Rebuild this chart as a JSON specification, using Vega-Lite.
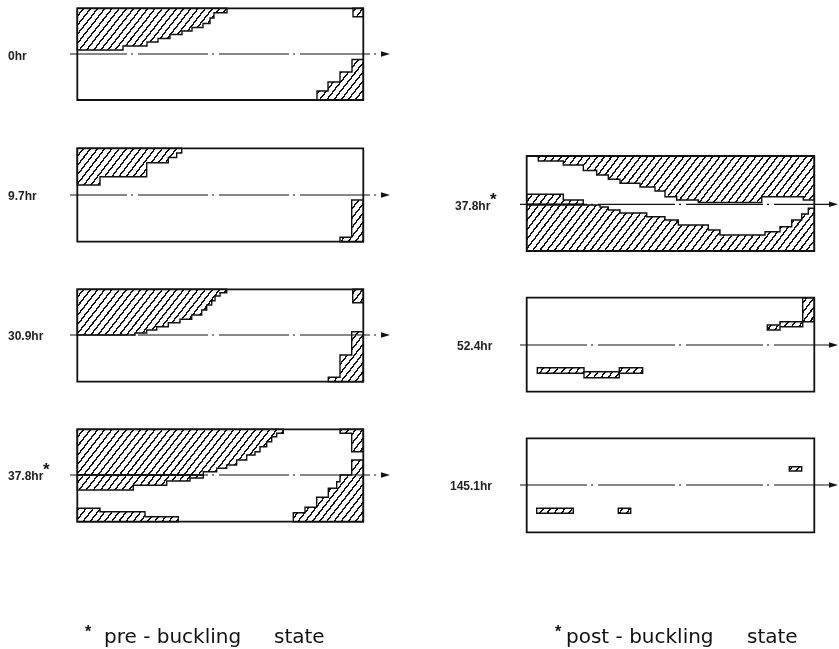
{
"$schema": "https://vega.github.io/schema/vega-lite/v6.json",
"width": 839, "height": 649, "autosize": {"type": "none"}, "padding": 0,
"background": "white",
"config": {"view": {"stroke": null}},
"datasets": {
"regions": [
{"r":"a1","x":77.3,"y":8.3,"y2":50},{"r":"a1","x":123,"y":8.3,"y2":46},{"r":"a1","x":147,"y":8.3,"y2":42},{"r":"a1","x":158,"y":8.3,"y2":38.5},{"r":"a1","x":170,"y":8.3,"y2":34.5},{"r":"a1","x":182,"y":8.3,"y2":31},{"r":"a1","x":192,"y":8.3,"y2":27.5},{"r":"a1","x":203,"y":8.3,"y2":23.5},{"r":"a1","x":210,"y":8.3,"y2":18},{"r":"a1","x":214,"y":8.3,"y2":12.7},{"r":"a1","x":227,"y":8.3,"y2":12.7},
{"r":"a2","x":353,"y":8.3,"y2":16.7},{"r":"a2","x":363.3,"y":8.3,"y2":16.7},
{"r":"a3","x":317,"y":91,"y2":100},{"r":"a3","x":328,"y":82,"y2":100},{"r":"a3","x":340,"y":72,"y2":100},{"r":"a3","x":352,"y":59.5,"y2":100},{"r":"a3","x":363.3,"y":59.5,"y2":100},
{"r":"b1","x":77.3,"y":148.3,"y2":185},{"r":"b1","x":100,"y":148.3,"y2":176.7},{"r":"b1","x":146.7,"y":148.3,"y2":162.7},{"r":"b1","x":168.3,"y":148.3,"y2":157.5},{"r":"b1","x":176.7,"y":148.3,"y2":153},{"r":"b1","x":181.7,"y":148.3,"y2":153},
{"r":"b2","x":340,"y":237.3,"y2":241.7},{"r":"b2","x":351.7,"y":200,"y2":241.7},{"r":"b2","x":363.3,"y":200,"y2":241.7},
{"r":"c1","x":77.3,"y":289.3,"y2":335},{"r":"c1","x":135,"y":289.3,"y2":333},{"r":"c1","x":146.7,"y":289.3,"y2":330},{"r":"c1","x":156.7,"y":289.3,"y2":326.7},{"r":"c1","x":168.3,"y":289.3,"y2":322.7},{"r":"c1","x":180,"y":289.3,"y2":319.3},{"r":"c1","x":191.7,"y":289.3,"y2":315},{"r":"c1","x":201.7,"y":289.3,"y2":310},{"r":"c1","x":206.7,"y":289.3,"y2":305},{"r":"c1","x":211.7,"y":289.3,"y2":300.7},{"r":"c1","x":215,"y":289.3,"y2":296},{"r":"c1","x":220,"y":289.3,"y2":292.7},{"r":"c1","x":226.7,"y":289.3,"y2":292.7},
{"r":"c2","x":352.7,"y":289.3,"y2":302.7},{"r":"c2","x":363.3,"y":289.3,"y2":302.7},
{"r":"c3","x":328.3,"y":377.3,"y2":381.7},{"r":"c3","x":340,"y":355,"y2":381.7},{"r":"c3","x":351.7,"y":331.7,"y2":381.7},{"r":"c3","x":363.3,"y":331.7,"y2":381.7},
{"r":"d1","x":77.3,"y":429.3,"y2":475},{"r":"d1","x":203.3,"y":429.3,"y2":471.7},{"r":"d1","x":216.7,"y":429.3,"y2":468.3},{"r":"d1","x":226.7,"y":429.3,"y2":465},{"r":"d1","x":236.7,"y":429.3,"y2":460},{"r":"d1","x":246.7,"y":429.3,"y2":455},{"r":"d1","x":255,"y":429.3,"y2":451.7},{"r":"d1","x":260,"y":429.3,"y2":446.7},{"r":"d1","x":266.7,"y":429.3,"y2":441.7},{"r":"d1","x":271.7,"y":429.3,"y2":436.7},{"r":"d1","x":276.7,"y":429.3,"y2":433.3},{"r":"d1","x":283.3,"y":429.3,"y2":433.3},
{"r":"d2","x":340,"y":429.3,"y2":433.3},{"r":"d2","x":351.7,"y":429.3,"y2":451.7},{"r":"d2","x":363.3,"y":429.3,"y2":451.7},
{"r":"d3","x":293.3,"y":512.7,"y2":521.7},{"r":"d3","x":305,"y":507.3,"y2":521.7},{"r":"d3","x":316.7,"y":497.3,"y2":521.7},{"r":"d3","x":328.3,"y":488.3,"y2":521.7},{"r":"d3","x":336.7,"y":481.7,"y2":521.7},{"r":"d3","x":340,"y":475,"y2":521.7},{"r":"d3","x":351.7,"y":460,"y2":521.7},{"r":"d3","x":363.3,"y":460,"y2":521.7},
{"r":"d4","x":77.3,"y":475,"y2":490},{"r":"d4","x":133.3,"y":475,"y2":485.3},{"r":"d4","x":166.7,"y":475,"y2":481},{"r":"d4","x":190,"y":475,"y2":478},{"r":"d4","x":203.3,"y":475,"y2":478},
{"r":"d5","x":77.3,"y":508.3,"y2":521.7},{"r":"d5","x":100,"y":511.7,"y2":521.7},{"r":"d5","x":145,"y":516.7,"y2":521.7},{"r":"d5","x":178.3,"y":516.7,"y2":521.7},
{"r":"e1","x":538.3,"y":156,"y2":161},{"r":"e1","x":563.3,"y":156,"y2":165},{"r":"e1","x":583.3,"y":156,"y2":170.5},{"r":"e1","x":596.7,"y":156,"y2":175},{"r":"e1","x":608.3,"y":156,"y2":179.3},{"r":"e1","x":620,"y":156,"y2":183.3},{"r":"e1","x":640,"y":156,"y2":187},{"r":"e1","x":655,"y":156,"y2":191},{"r":"e1","x":665,"y":156,"y2":196.7},{"r":"e1","x":676.7,"y":156,"y2":200},{"r":"e1","x":698.3,"y":156,"y2":202.5},{"r":"e1","x":761.7,"y":156,"y2":196.7},{"r":"e1","x":803.3,"y":156,"y2":200},{"r":"e1","x":814.3,"y":156,"y2":200},
{"r":"e2","x":526.7,"y":205,"y2":251},{"r":"e2","x":600,"y":207,"y2":251},{"r":"e2","x":608.3,"y":210,"y2":251},{"r":"e2","x":620,"y":213,"y2":251},{"r":"e2","x":646.7,"y":216.7,"y2":251},{"r":"e2","x":665,"y":220,"y2":251},{"r":"e2","x":678.3,"y":225,"y2":251},{"r":"e2","x":708.3,"y":230,"y2":251},{"r":"e2","x":720,"y":235,"y2":251},{"r":"e2","x":765,"y":231.7,"y2":251},{"r":"e2","x":780,"y":226.7,"y2":251},{"r":"e2","x":791.7,"y":220,"y2":251},{"r":"e2","x":801.7,"y":214,"y2":251},{"r":"e2","x":808.3,"y":208.3,"y2":251},{"r":"e2","x":814.3,"y":208.3,"y2":251},
{"r":"e3","x":526.7,"y":194.3,"y2":204.3},{"r":"e3","x":563.3,"y":200,"y2":204.3},{"r":"e3","x":583.3,"y":200,"y2":204.3},
{"r":"f1","x":802.7,"y":297.7,"y2":321.7},{"r":"f1","x":814.3,"y":297.7,"y2":321.7},
{"r":"f2","x":767.3,"y":325,"y2":330},{"r":"f2","x":780,"y":321.7,"y2":326.7},{"r":"f2","x":802.7,"y":321.7,"y2":326.7},
{"r":"f3","x":537.3,"y":367.7,"y2":373.3},{"r":"f3","x":584,"y":371.7,"y2":377.7},{"r":"f3","x":619.3,"y":367.7,"y2":373.3},{"r":"f3","x":642.7,"y":367.7,"y2":373.3},
{"r":"g1","x":536.7,"y":508.3,"y2":513.3},{"r":"g1","x":573.3,"y":508.3,"y2":513.3},
{"r":"g2","x":618.3,"y":508.3,"y2":513.3},{"r":"g2","x":630.7,"y":508.3,"y2":513.3},
{"r":"g3","x":789.3,"y":466.7,"y2":471},{"r":"g3","x":801.7,"y":466.7,"y2":471}
],
"boxes": [
{"p":"0hr","x":77.3,"x2":363.3,"y":8.3,"y2":100},
{"p":"9.7hr","x":77.3,"x2":363.3,"y":148.3,"y2":241.7},
{"p":"30.9hr","x":77.3,"x2":363.3,"y":289.3,"y2":381.7},
{"p":"37.8hr pre","x":77.3,"x2":363.3,"y":429.3,"y2":521.7},
{"p":"37.8hr post","x":526.7,"x2":814.3,"y":156,"y2":251},
{"p":"52.4hr","x":526.7,"x2":814.3,"y":297.7,"y2":391.7},
{"p":"145.1hr","x":526.7,"x2":814.3,"y":438.3,"y2":532.3}
],
"axesL": [
{"x":70,"x2":386,"y":54},{"x":70,"x2":386,"y":195},{"x":70,"x2":386,"y":335},{"x":70,"x2":386,"y":475}
],
"axesR": [
{"x":520,"x2":834,"y":204.3},{"x":520,"x2":834,"y":345},{"x":520,"x2":834,"y":485}
],
"arrows": [
{"x":385.5,"y":54},{"x":385.5,"y":195},{"x":385.5,"y":335},{"x":385.5,"y":475},
{"x":833.5,"y":204.3},{"x":833.5,"y":345},{"x":833.5,"y":485}
],
"labels": [
{"t":"0hr","x":8,"y":55.5},{"t":"9.7hr","x":8,"y":196},{"t":"30.9hr","x":8,"y":336},{"t":"37.8hr","x":8,"y":476},
{"t":"37.8hr","x":455,"y":206},{"t":"52.4hr","x":457,"y":346},{"t":"145.1hr","x":450,"y":486}
],
"stars": [
{"t":"*","x":43,"y":475},{"t":"*","x":490,"y":205}
],
"captions": [
{"t":"pre - buckling","x":104,"y":643},{"t":"state","x":274,"y":643},
{"t":"post - buckling","x":566,"y":643},{"t":"state","x":747,"y":643}
],
"capstars": [
{"t":"*","x":85,"y":637},{"t":"*","x":555,"y":637}
]
},
"encoding": {
"x": {"field": "x", "type": "quantitative", "scale": {"domain": [0, 839], "nice": false, "zero": false}, "axis": null},
"y": {"field": "y", "type": "quantitative", "scale": {"domain": [0, 649], "reverse": true, "nice": false, "zero": false}, "axis": null, "stack": null}
},
"layer": [
{"data": {"name": "regions"},
 "mark": {"type": "area", "interpolate": "step-after", "fill": "#000", "strokeWidth": 0},
 "encoding": {"y2": {"field": "y2"}, "detail": {"field": "r"}}},
{"data": {"name": "boxes"},
 "mark": {"type": "rect", "blend": "lighten", "strokeWidth": 0,
  "fill": {"gradient": "linear", "x1": 0, "y1": 0, "x2": 1.1775, "y2": 0.2981, "stops": [
{"offset":0,"color":"#fff"},{"offset":0.015,"color":"#fff"},{"offset":0.015,"color":"#111"},{"offset":0.02,"color":"#111"},
{"offset":0.02,"color":"#fff"},{"offset":0.035,"color":"#fff"},{"offset":0.035,"color":"#111"},{"offset":0.04,"color":"#111"},
{"offset":0.04,"color":"#fff"},{"offset":0.055,"color":"#fff"},{"offset":0.055,"color":"#111"},{"offset":0.06,"color":"#111"},
{"offset":0.06,"color":"#fff"},{"offset":0.075,"color":"#fff"},{"offset":0.075,"color":"#111"},{"offset":0.08,"color":"#111"},
{"offset":0.08,"color":"#fff"},{"offset":0.095,"color":"#fff"},{"offset":0.095,"color":"#111"},{"offset":0.1,"color":"#111"},
{"offset":0.1,"color":"#fff"},{"offset":0.115,"color":"#fff"},{"offset":0.115,"color":"#111"},{"offset":0.12,"color":"#111"},
{"offset":0.12,"color":"#fff"},{"offset":0.135,"color":"#fff"},{"offset":0.135,"color":"#111"},{"offset":0.14,"color":"#111"},
{"offset":0.14,"color":"#fff"},{"offset":0.155,"color":"#fff"},{"offset":0.155,"color":"#111"},{"offset":0.16,"color":"#111"},
{"offset":0.16,"color":"#fff"},{"offset":0.175,"color":"#fff"},{"offset":0.175,"color":"#111"},{"offset":0.18,"color":"#111"},
{"offset":0.18,"color":"#fff"},{"offset":0.195,"color":"#fff"},{"offset":0.195,"color":"#111"},{"offset":0.2,"color":"#111"},
{"offset":0.2,"color":"#fff"},{"offset":0.215,"color":"#fff"},{"offset":0.215,"color":"#111"},{"offset":0.22,"color":"#111"},
{"offset":0.22,"color":"#fff"},{"offset":0.235,"color":"#fff"},{"offset":0.235,"color":"#111"},{"offset":0.24,"color":"#111"},
{"offset":0.24,"color":"#fff"},{"offset":0.255,"color":"#fff"},{"offset":0.255,"color":"#111"},{"offset":0.26,"color":"#111"},
{"offset":0.26,"color":"#fff"},{"offset":0.275,"color":"#fff"},{"offset":0.275,"color":"#111"},{"offset":0.28,"color":"#111"},
{"offset":0.28,"color":"#fff"},{"offset":0.295,"color":"#fff"},{"offset":0.295,"color":"#111"},{"offset":0.3,"color":"#111"},
{"offset":0.3,"color":"#fff"},{"offset":0.315,"color":"#fff"},{"offset":0.315,"color":"#111"},{"offset":0.32,"color":"#111"},
{"offset":0.32,"color":"#fff"},{"offset":0.335,"color":"#fff"},{"offset":0.335,"color":"#111"},{"offset":0.34,"color":"#111"},
{"offset":0.34,"color":"#fff"},{"offset":0.355,"color":"#fff"},{"offset":0.355,"color":"#111"},{"offset":0.36,"color":"#111"},
{"offset":0.36,"color":"#fff"},{"offset":0.375,"color":"#fff"},{"offset":0.375,"color":"#111"},{"offset":0.38,"color":"#111"},
{"offset":0.38,"color":"#fff"},{"offset":0.395,"color":"#fff"},{"offset":0.395,"color":"#111"},{"offset":0.4,"color":"#111"},
{"offset":0.4,"color":"#fff"},{"offset":0.415,"color":"#fff"},{"offset":0.415,"color":"#111"},{"offset":0.42,"color":"#111"},
{"offset":0.42,"color":"#fff"},{"offset":0.435,"color":"#fff"},{"offset":0.435,"color":"#111"},{"offset":0.44,"color":"#111"},
{"offset":0.44,"color":"#fff"},{"offset":0.455,"color":"#fff"},{"offset":0.455,"color":"#111"},{"offset":0.46,"color":"#111"},
{"offset":0.46,"color":"#fff"},{"offset":0.475,"color":"#fff"},{"offset":0.475,"color":"#111"},{"offset":0.48,"color":"#111"},
{"offset":0.48,"color":"#fff"},{"offset":0.495,"color":"#fff"},{"offset":0.495,"color":"#111"},{"offset":0.5,"color":"#111"},
{"offset":0.5,"color":"#fff"},{"offset":0.515,"color":"#fff"},{"offset":0.515,"color":"#111"},{"offset":0.52,"color":"#111"},
{"offset":0.52,"color":"#fff"},{"offset":0.535,"color":"#fff"},{"offset":0.535,"color":"#111"},{"offset":0.54,"color":"#111"},
{"offset":0.54,"color":"#fff"},{"offset":0.555,"color":"#fff"},{"offset":0.555,"color":"#111"},{"offset":0.56,"color":"#111"},
{"offset":0.56,"color":"#fff"},{"offset":0.575,"color":"#fff"},{"offset":0.575,"color":"#111"},{"offset":0.58,"color":"#111"},
{"offset":0.58,"color":"#fff"},{"offset":0.595,"color":"#fff"},{"offset":0.595,"color":"#111"},{"offset":0.6,"color":"#111"},
{"offset":0.6,"color":"#fff"},{"offset":0.615,"color":"#fff"},{"offset":0.615,"color":"#111"},{"offset":0.62,"color":"#111"},
{"offset":0.62,"color":"#fff"},{"offset":0.635,"color":"#fff"},{"offset":0.635,"color":"#111"},{"offset":0.64,"color":"#111"},
{"offset":0.64,"color":"#fff"},{"offset":0.655,"color":"#fff"},{"offset":0.655,"color":"#111"},{"offset":0.66,"color":"#111"},
{"offset":0.66,"color":"#fff"},{"offset":0.675,"color":"#fff"},{"offset":0.675,"color":"#111"},{"offset":0.68,"color":"#111"},
{"offset":0.68,"color":"#fff"},{"offset":0.695,"color":"#fff"},{"offset":0.695,"color":"#111"},{"offset":0.7,"color":"#111"},
{"offset":0.7,"color":"#fff"},{"offset":0.715,"color":"#fff"},{"offset":0.715,"color":"#111"},{"offset":0.72,"color":"#111"},
{"offset":0.72,"color":"#fff"},{"offset":0.735,"color":"#fff"},{"offset":0.735,"color":"#111"},{"offset":0.74,"color":"#111"},
{"offset":0.74,"color":"#fff"},{"offset":0.755,"color":"#fff"},{"offset":0.755,"color":"#111"},{"offset":0.76,"color":"#111"},
{"offset":0.76,"color":"#fff"},{"offset":0.775,"color":"#fff"},{"offset":0.775,"color":"#111"},{"offset":0.78,"color":"#111"},
{"offset":0.78,"color":"#fff"},{"offset":0.795,"color":"#fff"},{"offset":0.795,"color":"#111"},{"offset":0.8,"color":"#111"},
{"offset":0.8,"color":"#fff"},{"offset":0.815,"color":"#fff"},{"offset":0.815,"color":"#111"},{"offset":0.82,"color":"#111"},
{"offset":0.82,"color":"#fff"},{"offset":0.835,"color":"#fff"},{"offset":0.835,"color":"#111"},{"offset":0.84,"color":"#111"},
{"offset":0.84,"color":"#fff"},{"offset":0.855,"color":"#fff"},{"offset":0.855,"color":"#111"},{"offset":0.86,"color":"#111"},
{"offset":0.86,"color":"#fff"},{"offset":0.875,"color":"#fff"},{"offset":0.875,"color":"#111"},{"offset":0.88,"color":"#111"},
{"offset":0.88,"color":"#fff"},{"offset":0.895,"color":"#fff"},{"offset":0.895,"color":"#111"},{"offset":0.9,"color":"#111"},
{"offset":0.9,"color":"#fff"},{"offset":0.915,"color":"#fff"},{"offset":0.915,"color":"#111"},{"offset":0.92,"color":"#111"},
{"offset":0.92,"color":"#fff"},{"offset":0.935,"color":"#fff"},{"offset":0.935,"color":"#111"},{"offset":0.94,"color":"#111"},
{"offset":0.94,"color":"#fff"},{"offset":0.955,"color":"#fff"},{"offset":0.955,"color":"#111"},{"offset":0.96,"color":"#111"},
{"offset":0.96,"color":"#fff"},{"offset":0.975,"color":"#fff"},{"offset":0.975,"color":"#111"},{"offset":0.98,"color":"#111"},
{"offset":0.98,"color":"#fff"},{"offset":0.995,"color":"#fff"},{"offset":0.995,"color":"#111"},{"offset":1,"color":"#111"}
  ]}},
 "encoding": {"x2": {"field": "x2"}, "y2": {"field": "y2"}}},
{"data": {"name": "regions"},
 "mark": {"type": "area", "interpolate": "step-after", "fillOpacity": 0, "stroke": "#111", "strokeWidth": 1.4},
 "encoding": {"y2": {"field": "y2"}, "detail": {"field": "r"}}},
{"data": {"name": "boxes"},
 "mark": {"type": "rect", "fillOpacity": 0, "stroke": "#111", "strokeWidth": 1.8},
 "encoding": {"x2": {"field": "x2"}, "y2": {"field": "y2"}}},
{"data": {"name": "axesL"},
 "mark": {"type": "rule", "color": "#111", "strokeWidth": 1.2, "strokeDash": [70, 4, 2, 5], "strokeDashOffset": 13},
 "encoding": {"x2": {"field": "x2"}}},
{"data": {"name": "axesR"},
 "mark": {"type": "rule", "color": "#111", "strokeWidth": 1.2, "strokeDash": [77, 4, 2, 5], "strokeDashOffset": 10},
 "encoding": {"x2": {"field": "x2"}}},
{"data": {"name": "arrows"},
 "mark": {"type": "point", "shape": "M-1,-0.6L1,0L-1,0.6Z", "filled": true, "color": "#111", "size": 81, "opacity": 1}},
{"data": {"name": "labels"},
 "mark": {"type": "text", "align": "left", "baseline": "middle", "font": "Liberation Sans", "fontSize": 12, "fontWeight": "bold", "color": "#222"},
 "encoding": {"text": {"field": "t"}}},
{"data": {"name": "stars"},
 "mark": {"type": "text", "align": "left", "baseline": "alphabetic", "font": "Liberation Sans", "fontSize": 17, "fontWeight": "bold", "color": "#111"},
 "encoding": {"text": {"field": "t"}}},
{"data": {"name": "captions"},
 "mark": {"type": "text", "align": "left", "baseline": "alphabetic", "font": "DejaVu Sans", "fontSize": 20, "color": "#111"},
 "encoding": {"text": {"field": "t"}}},
{"data": {"name": "capstars"},
 "mark": {"type": "text", "align": "left", "baseline": "alphabetic", "font": "Liberation Sans", "fontSize": 16, "fontWeight": "bold", "color": "#111"},
 "encoding": {"text": {"field": "t"}}}
]
}
